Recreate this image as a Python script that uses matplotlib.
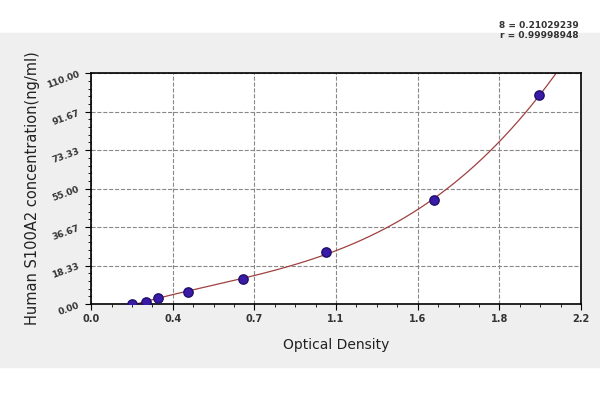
import numpy as np
import matplotlib
matplotlib.use("Agg")
import matplotlib.pyplot as plt

# standard points
od = [0.182, 0.247, 0.302, 0.434, 0.680, 1.054, 1.542, 2.014]
conc = [0.0, 1.0, 2.7, 5.7, 11.9, 24.7, 49.7, 99.6]
x_ticks = [0, 0.3667, 0.7333, 1.1, 1.4667, 1.8333, 2.2]
x_labels = ["0.0", "0.4", "0.7", "1.1", "1.6", "1.8", "2.2"]
y_ticks = [0, 18.33, 36.67, 55.0, 73.33, 91.67, 110.0]
y_labels = ["0.00", "18.33", "36.67", "55.00", "73.33", "91.67", "110.00"]

fig = plt.figure(figsize=(6, 4), dpi=100, facecolor="white")
# gray panel band behind the chart
fig.patches.append(plt.Rectangle((0, 0.083), 1, 0.835, transform=fig.transFigure,
                                 color="#efefef", zorder=-1))
ax = fig.add_axes([0.152, 0.24, 0.816, 0.577])
ax.set_facecolor("white")

# fitted curve through the standards
coef = np.polyfit(od, conc, 3)
xs = np.linspace(0.18, 2.1, 300)
ys = np.polyval(coef, xs)
ax.plot(xs, ys, color="#a04040", lw=0.9)
ax.scatter(od, conc, s=45, color="#3a1aa8", edgecolor="#20106a", zorder=3)

ax.set_xlim(0, 2.2)
ax.set_ylim(0, 110)
ax.set_xticks(x_ticks)
ax.set_xticklabels(x_labels, fontsize=7, fontweight="bold", color="#333333")
ax.set_yticks(y_ticks)
ax.set_yticklabels(y_labels, fontsize=6.5, rotation=20, fontweight="bold", color="#333333")
ax.set_xticks(np.arange(0, 2.2, 0.0917), minor=True)
ax.set_yticks(np.arange(0, 110, 3.667), minor=True)
ax.tick_params(which="major", length=4, direction="out")
ax.tick_params(which="minor", length=2)
ax.grid(which="major", ls="--", color="#888888", lw=0.8)
for s in ax.spines.values():
    s.set_linewidth(1.2)

ax.set_xlabel("Optical Density", fontsize=10, labelpad=10, color="#222222")
ax.set_ylabel("Human S100A2 concentration(ng/ml)", fontsize=10.5, color="#222222")
fig.text(0.965, 0.9, "8 = 0.21029239\nr = 0.99998948", ha="right", va="bottom",
         fontsize=6.5, fontweight="bold", color="#333333")

fig.savefig("out.png", facecolor=fig.get_facecolor())
